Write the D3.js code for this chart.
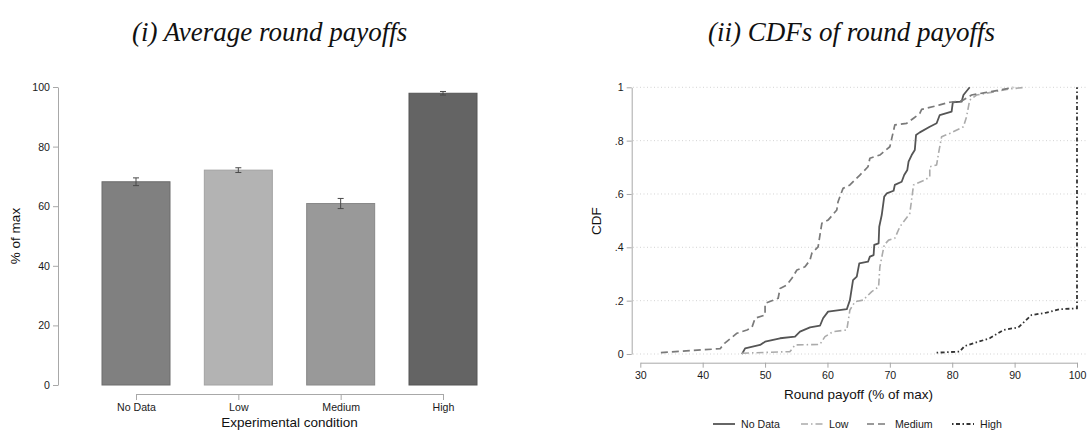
<!DOCTYPE html>
<html>
<head>
<meta charset="utf-8">
<script src="https://cdn.jsdelivr.net/npm/d3@7"></script>
<style>
  body { margin: 0; background: #fff; }
  svg { display: block; font-family: "Liberation Sans", Arial, sans-serif; }
  .axis path, .axis line { stroke: #a8a8a8; }
  .axis text { fill: #1a1a1a; font-size: 10.6px; }
</style>
</head>
<body>
<svg id="chart" width="1088" height="430"></svg>
<script>
// panel (i): average round payoffs
var conditions = ["No Data", "Low", "Medium", "High"];
var avgPayoff = [68.2, 72.1, 60.9, 97.9];
var avgErr = [1.3, 0.8, 1.7, 0.6];
var barFill = ["#808080", "#b3b3b3", "#999999", "#646464"];
var barStroke = ["#6c6c6c", "#a2a2a2", "#888888", "#555555"];
var leftTicks = [0, 20, 40, 60, 80, 100];

// panel (ii): CDFs of round payoffs, [payoff, cdf]
var cdfNoData = [[46.3,0],[46.8,0.021],[49.2,0.034],[50.0,0.046],[52.4,0.059],[54.8,0.065],[55.6,0.084],[57.2,0.10],[58.8,0.106],[59.3,0.134],[60.1,0.159],[63.1,0.168],[63.6,0.202],[64.1,0.277],[64.7,0.29],[65.1,0.34],[66.5,0.346],[66.8,0.365],[67.4,0.371],[67.5,0.409],[68.2,0.415],[68.3,0.477],[68.7,0.521],[69.1,0.59],[69.5,0.602],[70.6,0.612],[70.8,0.634],[71.9,0.646],[72.3,0.671],[72.8,0.69],[73.0,0.721],[73.5,0.746],[74.0,0.765],[74.2,0.821],[74.8,0.831],[76.4,0.852],[77.5,0.865],[78.0,0.896],[79.9,0.909],[80.1,0.944],[81.5,0.946],[81.8,0.971],[82.8,1.0]];
var cdfLow = [[46.3,0.003],[54.0,0.009],[54.8,0.034],[58.8,0.036],[59.6,0.065],[60.9,0.084],[63.1,0.09],[63.6,0.165],[64.4,0.196],[65.7,0.202],[67.1,0.234],[68.2,0.252],[68.4,0.327],[69.1,0.409],[69.8,0.427],[70.8,0.434],[71.6,0.477],[73.2,0.527],[73.8,0.634],[75.6,0.652],[76.4,0.665],[76.4,0.702],[77.5,0.709],[77.8,0.752],[78.3,0.815],[79.6,0.827],[81.8,0.852],[82.3,0.89],[82.8,0.952],[83.9,0.971],[86.0,0.98],[89.3,0.994],[91.7,1.0]];
var cdfMedium = [[33.3,0.005],[42.8,0.02],[43.5,0.04],[45.5,0.078],[47.1,0.09],[47.9,0.10],[48.4,0.134],[50.0,0.146],[50.0,0.19],[52.1,0.209],[52.4,0.246],[53.5,0.259],[54.3,0.284],[55.1,0.315],[56.4,0.327],[57.2,0.352],[57.5,0.378],[58.5,0.402],[59.1,0.49],[60.1,0.502],[61.5,0.54],[61.7,0.571],[62.5,0.621],[63.6,0.634],[65.2,0.671],[66.5,0.702],[66.8,0.734],[68.4,0.746],[70.0,0.777],[70.8,0.859],[72.7,0.865],[73.8,0.884],[74.8,0.902],[75.1,0.917],[78.0,0.934],[79.6,0.944],[81.5,0.949],[83.1,0.971],[85.5,0.981],[87.7,0.99],[89.8,1.0]];
var cdfHigh = [[77.5,0.005],[81.2,0.009],[82.0,0.03],[86.0,0.059],[88.2,0.09],[90.6,0.10],[92.7,0.146],[95.1,0.155],[97.3,0.168],[100,0.171],[100,1.0]];
var rightXTicks = [30, 40, 50, 60, 70, 80, 90, 100];
var rightYTicks = [0, 0.2, 0.4, 0.6, 0.8, 1];

var series = [
  {name: "No Data", data: cdfNoData, color: "#555555", width: 1.8, dash: null},
  {name: "Low", data: cdfLow, color: "#ababab", width: 1.6, dash: "7,3,1.5,3"},
  {name: "Medium", data: cdfMedium, color: "#7a7a7a", width: 1.7, dash: "7,4"},
  {name: "High", data: cdfHigh, color: "#333333", width: 1.8, dash: "1.5,2.5,4,2.5"}
];

var svg = d3.select("#chart");

// titles
svg.append("text").attr("x", 132).attr("y", 41)
  .style("font-family", "'Liberation Serif', 'Times New Roman', serif")
  .style("font-style", "italic").style("font-size", "27px").attr("fill", "#111")
  .text("(i) Average round payoffs");
svg.append("text").attr("x", 708).attr("y", 41)
  .style("font-family", "'Liberation Serif', 'Times New Roman', serif")
  .style("font-style", "italic").style("font-size", "27px").attr("fill", "#111")
  .text("(ii) CDFs of round payoffs");

// ---- left panel
var xL = d3.scalePoint().domain(conditions).range([136, 443]);
var yL = d3.scaleLinear().domain([0, 100]).range([385, 87]);
var barW = 68;

svg.append("g").attr("class", "axis").attr("transform", "translate(58,0)")
  .call(d3.axisLeft(yL).tickValues(leftTicks).tickSize(5).tickSizeOuter(0).tickPadding(3));
svg.append("g").attr("class", "axis").attr("transform", "translate(0,394)")
  .call(d3.axisBottom(xL).tickSize(6).tickSizeOuter(0).tickPadding(3));

var bars = conditions.map(function(c, i) {
  return {cat: c, val: avgPayoff[i], err: avgErr[i], fill: barFill[i], stroke: barStroke[i]};
});

svg.append("g").selectAll("rect").data(bars).enter().append("rect")
  .attr("x", function(d) { return xL(d.cat) - barW / 2; })
  .attr("y", function(d) { return yL(d.val); })
  .attr("width", barW)
  .attr("height", function(d) { return yL(0) - yL(d.val); })
  .attr("fill", function(d) { return d.fill; })
  .attr("stroke", function(d) { return d.stroke; });

var eb = svg.append("g").attr("stroke", "#4a4a4a").attr("stroke-width", 1);
bars.forEach(function(d) {
  var cx = xL(d.cat);
  eb.append("line").attr("x1", cx).attr("x2", cx).attr("y1", yL(d.val - d.err)).attr("y2", yL(d.val + d.err));
  eb.append("line").attr("x1", cx - 3).attr("x2", cx + 3).attr("y1", yL(d.val - d.err)).attr("y2", yL(d.val - d.err));
  eb.append("line").attr("x1", cx - 3).attr("x2", cx + 3).attr("y1", yL(d.val + d.err)).attr("y2", yL(d.val + d.err));
});

svg.append("text").attr("transform", "translate(20,236) rotate(-90)")
  .attr("text-anchor", "middle").style("font-size", "13.5px").attr("fill", "#111")
  .text("% of max");
svg.append("text").attr("x", 289.5).attr("y", 426.5)
  .attr("text-anchor", "middle").style("font-size", "13.5px").attr("fill", "#111")
  .text("Experimental condition");

// ---- right panel
var xR = d3.scaleLinear().domain([30, 100]).range([640.3, 1077]);
var yR = d3.scaleLinear().domain([0, 1]).range([354, 87.3]);

svg.append("g").selectAll("line").data(rightYTicks).enter().append("line")
  .attr("x1", 633).attr("x2", 1086)
  .attr("y1", function(d) { return yR(d); }).attr("y2", function(d) { return yR(d); })
  .attr("stroke", "#c8c8c8").attr("stroke-width", 0.8).attr("stroke-dasharray", "1,2.5");

svg.append("g").attr("class", "axis").attr("transform", "translate(631.7,0)")
  .call(d3.axisLeft(yR).tickValues(rightYTicks).tickSize(5).tickSizeOuter(0).tickPadding(3)
    .tickFormat(function(d) { return d === 0 ? "0" : d === 1 ? "1" : d3.format(".1f")(d).replace(/^0/, ""); }));
svg.append("g").attr("class", "axis").attr("transform", "translate(0,362.7)")
  .call(d3.axisBottom(xR).tickValues(rightXTicks).tickSize(5).tickSizeOuter(0).tickPadding(4));

var line = d3.line().x(function(d) { return xR(d[0]); }).y(function(d) { return yR(d[1]); });

svg.append("g").selectAll("path").data(series).enter().append("path")
  .attr("d", function(d) { return line(d.data); })
  .attr("fill", "none")
  .attr("stroke", function(d) { return d.color; })
  .attr("stroke-width", function(d) { return d.width; })
  .attr("stroke-dasharray", function(d) { return d.dash; })
  .attr("stroke-linejoin", "round");

svg.append("text").attr("transform", "translate(601,221) rotate(-90)")
  .attr("text-anchor", "middle").style("font-size", "13.5px").attr("fill", "#111")
  .text("CDF");
svg.append("text").attr("x", 858.6).attr("y", 399)
  .attr("text-anchor", "middle").style("font-size", "13.5px").attr("fill", "#111")
  .text("Round payoff (% of max)");

// legend
var legendX = [713, 801, 867, 952];
var lg = svg.append("g").selectAll("g").data(series).enter().append("g")
  .attr("transform", function(d, i) { return "translate(" + legendX[i] + ",424)"; });
lg.append("line").attr("x1", 0).attr("x2", 22).attr("y1", 0).attr("y2", 0)
  .attr("stroke", function(d) { return d.color; })
  .attr("stroke-width", function(d) { return d.width; })
  .attr("stroke-dasharray", function(d) { return d.dash; });
lg.append("text").attr("x", 28).attr("y", 3.7).style("font-size", "10.6px").attr("fill", "#1a1a1a")
  .text(function(d) { return d.name; });
</script>
</body>
</html>
